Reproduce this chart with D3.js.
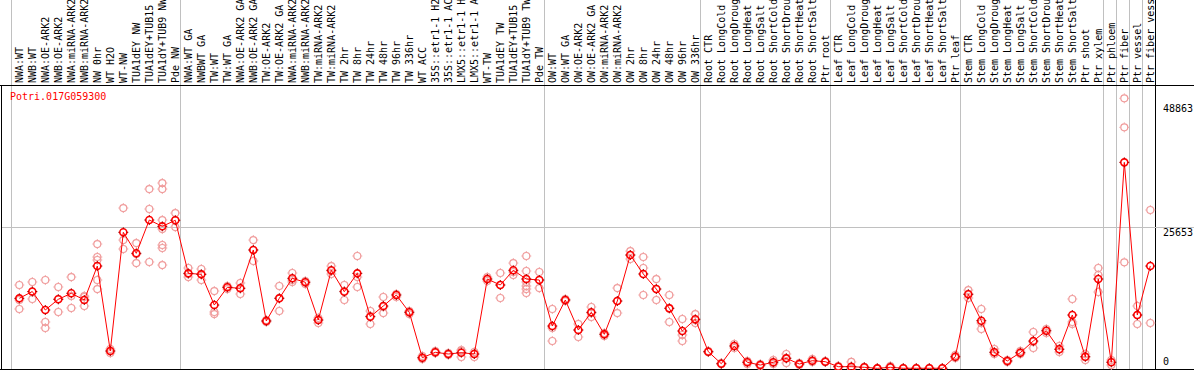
<!DOCTYPE html>
<html>
<head>
<meta charset="utf-8">
<script src="https://cdn.jsdelivr.net/npm/d3@7"></script>
<style>
body { margin: 0; background: #fff; }
text { font-family: "DejaVu Sans Mono", monospace; font-size: 10px; }
</style>
</head>
<body>
<div class="fig"></div>
<script>
var geneId = "Potri.017G059300";

var samples = ["NWA:WT","NWB:WT","NWA:OE-ARK2","NWB:OE-ARK2","NWA:miRNA-ARK2","NWB:miRNA-ARK2","NW 0hr","WT H2O","WT-NW","TUA1dEY NW","TUA1dEY+TUB15 NW","TUA1dY+TUB9 NW","Pde NW",
  "NWA:WT GA","NWBWT GA","TW:WT","TW:WT GA","NWA:OE-ARK2 GA","NWB:OE-ARK2 GA","TW:OE-ARK2","TW:OE-ARK2 GA","NWA:miRNA-ARK2 GA","NWB:miRNA-ARK2 GA","TW:miRNA-ARK2","TW:miRNA-ARK2 GA","TW 2hr","TW 8hr","TW 24hr","TW 48hr","TW 96hr","TW 336hr","WT ACC","35S::etr1-1 H2O","35S::etr1-1 ACC","LMX5::etr1-1 H2O","LMX5::etr1-1 ACC","WT-TW","TUA1dEY TW","TUA1dEY+TUB15 TW","TUA1dY+TUB9 TW","Pde TW",
  "OW:WT","OW:WT GA","OW:OE-ARK2","OW:OE-ARK2 GA","OW:miRNA-ARK2","OW:miRNA-ARK2 GA","OW 2hr","OW 8hr","OW 24hr","OW 48hr","OW 96hr","OW 336hr",
  "Root CTR","Root LongCold","Root LongDrought","Root LongHeat","Root LongSalt","Root ShortCold","Root ShortDrought","Root ShortHeat","Root ShortSalt","Ptr root",
  "Leaf CTR","Leaf LongCold","Leaf LongDrought","Leaf LongHeat","Leaf LongSalt","Leaf ShortCold","Leaf ShortDrought","Leaf ShortHeat","Leaf ShortSalt","Ptr leaf",
  "Stem CTR","Stem LongCold","Stem LongDrought","Stem LongHeat","Stem LongSalt","Stem ShortCold","Stem ShortDrought","Stem ShortHeat","Stem ShortSalt","Ptr shoot","Ptr xylem",
  "Ptr phloem","Ptr fiber","Ptr vessel","Ptr fiber vessel"];

// mean expression per sample
var means = [12690,13920,10580,12510,13600,12390,18530,3160,24630,20830,26850,25710,26800,
  17210,17030,11480,14680,14500,21430,8590,12690,16310,15590,8770,17760,13890,17210,9370,11300,13290,10160,1950,2930,2620,2860,2620,16180,15100,17760,16180,16000,
  7680,12390,6960,10160,6180,12200,20520,17090,14370,10880,6780,8900,
  3040,870,4070,1120,630,1120,1840,810,1410,1230,
  330,330,220,30,220,40,40,40,40,2130,
  13420,8640,2930,1360,2860,4970,6830,3470,9670,2130,16180,
  1120,37280,9670,18530];

// replicate values per sample
var reps = [[15100,12390,10760],[15640,13830,12570],[16000,8410,7320],[14740,12570,10220],[16540,13110,10940],[13110,12930,11300],
  [22510,20160,19620,16000,14370],[3530,3160,2800],[29020,23230,21610],[22690,20700,19070],[32450,28840,19260],
  [33540,32450,26850,25220,22330,21790,18710],[28110,26850,25580],
  [18170,17090,16540],[17990,17090,16000],[14010,10220,9850],[14920,14740,14370],[15460,14550,13470],[23230,21430,19440],
  [8770,8590,8410],[14920,12750,10400],[17270,16000,15640],[15820,15640,15280],[9130,8770,8230],[18530,17630,17090],
  [15100,14010,12390],[20340,16540,14740],[10400,9490,8050],[12930,11120,10030],[13470,13290,12930],[10400,10220,9850],
  [2260,1900,1720],[3160,2980,2800],[2800,2620,2440],[3350,3160,2080],[2980,2620,2080],[16540,16180,15820],
  [17270,15100,12750],[19070,17450,16910],[20340,17630,16180,15640,14920,14370,13650],[17450,16000,14550],
  [10760,7320,4970],[12570,12390,12200],[8050,6960,5700],[11120,10030,9310],[6420,6240,5880],[14550,12200,10030],
  [21240,20520,19800],[20160,18170,13290],[16180,14370,12390],[13290,10940,8410],[8950,6060,4970],[9850,8770,8230],
  [3160,2980,2980],[990,810,810],[4430,4070,3710],[1360,1180,810],[810,630,450],[1540,990,810],[2620,1900,990],
  [990,810,630],[1720,1360,1180],[1360,1180,1180],
  [450,270,270],[1180,90,0],[270,270,90],[40,20,0],[450,270,90],[60,40,20],[60,40,20],[60,40,20],[60,40,20],[2440,2080,1900],
  [14190,13470,12750],[10760,8230,7140],[3530,2980,2620],[1540,1360,1180],[3160,2800,2620],[6600,4790,3710],
  [7140,6780,6420],[4070,3530,2980],[12570,8410,8050],[2620,2080,1540],[18170,16910,13830],
  [1540,1180,630],[48863,43610,19200],[11300,9670,8050],[28660,8230]];

var groupStarts = [0, 13, 41, 53, 63, 73, 84, 85, 86, 87, 88];
var yTicks = [0, 25653, 48863];

var svg = d3.select(".fig").append("svg")
    .attr("width", 1194)
    .attr("height", 370);

var x = d3.scaleBand()
    .domain(d3.range(samples.length))
    .range([11, 1155]);
var px = function(i) { return x(i) + 8.3; };
var edge = function(g) { return g < samples.length ? x(g) : x.range()[1]; };

var y = d3.scaleLinear()
    .domain([0, d3.max(yTicks)])
    .range([368.5, 98.3]);

// group separators
svg.append("g").selectAll("line")
   .data(groupStarts)
   .enter().append("line")
   .attr("x1", function(d) { return edge(d) + 0.5; })
   .attr("x2", function(d) { return edge(d) + 0.5; })
   .attr("y1", 0)
   .attr("y2", 369)
   .attr("stroke", function(d) { return d == samples.length ? "#000" : "#c0c0c0"; })
   .attr("stroke-width", 1);

// mid grid line
svg.append("line")
   .attr("x1", 1).attr("x2", 1194)
   .attr("y1", Math.ceil(y(yTicks[1])) + 0.5)
   .attr("y2", Math.ceil(y(yTicks[1])) + 0.5)
   .attr("stroke", "#c0c0c0");

// frame
svg.append("path")
   .attr("d", "M0,85.5H1194M1.5,85V370M0,369.5H1194")
   .attr("stroke", "#000")
   .attr("fill", "none");

// sample labels
svg.append("g").selectAll("text")
   .data(samples)
   .enter().append("text")
   .attr("transform", function(d, i) { return "translate(" + (px(i) + 4) + ",83) rotate(-90)"; })
   .attr("fill", "#000")
   .text(function(d) { return d; });

// y labels
svg.append("g").selectAll("text")
   .data(yTicks)
   .enter().append("text")
   .attr("x", 1163)
   .attr("y", function(d) { return Math.min(Math.max(y(d) + 9, 112), 365); })
   .attr("fill", "#000")
   .text(function(d) { return d; });

svg.append("text")
   .attr("x", 10)
   .attr("y", 100)
   .attr("fill", "#ff0000")
   .text(geneId);

function marker(sel, ring, tick, sw) {
  sel.append("circle")
     .attr("r", 3.5)
     .attr("fill", "none")
     .attr("stroke", ring)
     .attr("stroke-width", sw);
  sel.append("path")
     .attr("d", "M0,-5V-3.5M0,3.5V5M-5,0H-3.5M3.5,0H5")
     .attr("stroke", tick)
     .attr("stroke-width", 1);
}

var pts = [];
reps.forEach(function(arr, i) {
  arr.forEach(function(v) { pts.push({ i: i, v: v }); });
});

var repG = svg.append("g").selectAll("g")
   .data(pts)
   .enter().append("g")
   .attr("transform", function(d) { return "translate(" + px(d.i) + "," + y(d.v) + ")"; });
marker(repG, "#f09a9a", "#f0a8a8", 1.2);

var line = d3.line()
   .x(function(d, i) { return px(i); })
   .y(function(d) { return y(d); });

svg.append("path")
   .datum(means)
   .attr("d", line)
   .attr("fill", "none")
   .attr("stroke", "#ff0000")
   .attr("stroke-width", 1);

var meanG = svg.append("g").selectAll("g")
   .data(means)
   .enter().append("g")
   .attr("transform", function(d, i) { return "translate(" + px(i) + "," + y(d) + ")"; });
marker(meanG, "#ff0000", "#a00000", 1.6);
</script>
</body>
</html>
